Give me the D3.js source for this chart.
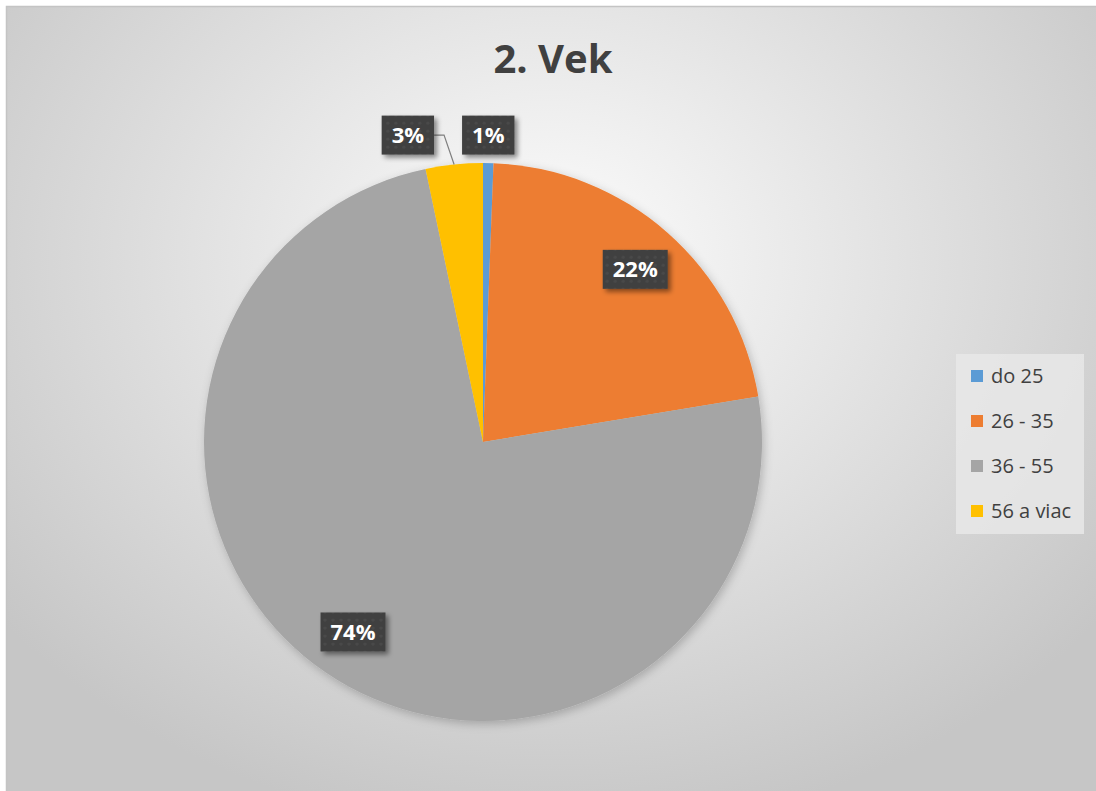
<!DOCTYPE html>
<html>
<head>
<meta charset="utf-8">
<script src="https://cdn.jsdelivr.net/npm/d3@7"></script>
<style>
  html, body { margin: 0; padding: 0; background: #fff; }
  svg { display: block; }
  text { font-family: "Open Sans", "DejaVu Sans", sans-serif; }
</style>
</head>
<body>
<svg id="chart" width="1096" height="791"></svg>
<script>
// data
const categories = ['do 25', '26 - 35', '36 - 55', '56 a viac'];
const shares = [0.6, 21.8, 74.3, 3.3];
const labels = ['1%', '22%', '74%', '3%'];
const colors = ['#5b9bd5', '#ed7d31', '#a5a5a5', '#ffc000'];
const title = '2. Vek';

const W = 1096, H = 791;
const cx = 483, cy = 442, R = 279;

const svg = d3.select('#chart');
const defs = svg.append('defs');

// background gradient, bright near the title, grey towards the edges
const bg = defs.append('radialGradient')
  .attr('id', 'bg')
  .attr('gradientUnits', 'userSpaceOnUse')
  .attr('cx', 550).attr('cy', 260).attr('r', 640)
  .attr('gradientTransform', 'translate(550,260) scale(1.1,0.9) translate(-550,-260)');
bg.append('stop').attr('offset', '0%').attr('stop-color', '#fdfdfd');
bg.append('stop').attr('offset', '100%').attr('stop-color', '#c6c6c6');

// soft shadow under the pie
const pieShadow = defs.append('filter').attr('id', 'pieShadow')
  .attr('x', '-10%').attr('y', '-10%').attr('width', '120%').attr('height', '120%');
pieShadow.append('feDropShadow')
  .attr('dx', 2).attr('dy', 3).attr('stdDeviation', 5)
  .attr('flood-color', '#000').attr('flood-opacity', 0.22);

// label box shadow
const boxShadow = defs.append('filter').attr('id', 'boxShadow')
  .attr('x', '-20%').attr('y', '-20%').attr('width', '150%').attr('height', '160%');
boxShadow.append('feDropShadow')
  .attr('dx', 3).attr('dy', 3).attr('stdDeviation', 2.5)
  .attr('flood-color', '#000').attr('flood-opacity', 0.45);

// dotted texture of the label boxes
const dots = defs.append('pattern').attr('id', 'dots')
  .attr('patternUnits', 'userSpaceOnUse').attr('width', 8).attr('height', 8);
dots.append('rect').attr('width', 8).attr('height', 8).attr('fill', '#404040');
dots.append('circle').attr('cx', 4).attr('cy', 4).attr('r', 1.6).attr('fill', '#4a4a4a');

// chart area
svg.append('rect')
  .attr('x', 6.5).attr('y', 6.5)
  .attr('width', W - 4).attr('height', H)
  .attr('fill', 'url(#bg)')
  .attr('stroke', '#c4c4c4').attr('stroke-width', 1.5);

svg.append('text')
  .attr('x', 553).attr('y', 73)
  .attr('text-anchor', 'middle')
  .attr('font-size', 40).attr('font-weight', 700)
  .attr('fill', '#404040')
  .text(title);

const pie = d3.pie().sort(null).value(d => d);
const arcs = pie(shares);
const arc = d3.arc().innerRadius(0).outerRadius(R);

const g = svg.append('g').attr('transform', `translate(${cx},${cy})`);

g.append('g').attr('filter', 'url(#pieShadow)')
  .selectAll('path')
  .data(arcs)
  .enter().append('path')
  .attr('d', arc)
  .attr('fill', (d, i) => colors[i]);

// measure label widths first
const probe = svg.append('text').attr('font-size', 22).attr('font-weight', 700);
const widths = labels.map(t => probe.text(t).node().getComputedTextLength());
probe.remove();

// label placement: inside for big slices, outside for thin ones
const inner = d3.arc().innerRadius(R * 0.825).outerRadius(R * 0.825);
const boxH = 39, pad = 10;
const placed = [];
arcs.forEach((d, i) => {
  const mid = (d.startAngle + d.endAngle) / 2;
  const bw = widths[i] + pad * 2;
  let x, y, outside = false;
  if (d.endAngle - d.startAngle > 0.3) {
    [x, y] = inner.centroid(d);
  } else {
    outside = true;
    x = Math.sin(mid) * R;
    y = -R * 1.1;
  }
  // push left if it runs into an earlier outside label
  placed.forEach(p => {
    if (Math.abs(p.y - y) < boxH && Math.abs(p.x - x) < (p.bw + bw) / 2) {
      x = p.x - p.bw / 2 - bw / 2 - 28;
    }
  });
  placed.push({x, y, bw, mid, outside, i});
});

placed.forEach(p => {
  if (p.outside && Math.abs(Math.sin(p.mid) * R - p.x) > p.bw / 2) {
    const ex = Math.sin(p.mid) * R, ey = -Math.cos(p.mid) * R;
    g.append('polyline')
      .attr('points', [[p.x + p.bw / 2, p.y], [p.x + p.bw / 2 + 10, p.y], [ex, ey]].join(' '))
      .attr('fill', 'none')
      .attr('stroke', '#7f7f7f').attr('stroke-width', 1.2);
  }
});

const lab = g.selectAll('.lab')
  .data(placed)
  .enter().append('g')
  .attr('class', 'lab')
  .attr('transform', p => `translate(${p.x},${p.y})`);

lab.append('rect')
  .attr('x', p => -p.bw / 2).attr('y', -boxH / 2)
  .attr('width', p => p.bw).attr('height', boxH)
  .attr('fill', 'url(#dots)')
  .attr('filter', 'url(#boxShadow)');

lab.append('text')
  .attr('text-anchor', 'middle')
  .attr('dy', '0.36em')
  .attr('font-size', 22).attr('font-weight', 700)
  .attr('fill', '#fff')
  .text(p => labels[p.i]);

// legend
const legend = svg.append('g').attr('transform', 'translate(956,354)');
legend.append('rect')
  .attr('width', 128).attr('height', 180)
  .attr('fill', '#e8e8e8').attr('fill-opacity', 0.85);

const y = d3.scalePoint().domain(categories).range([22, 157]);
const item = legend.selectAll('.item')
  .data(categories)
  .enter().append('g')
  .attr('class', 'item')
  .attr('transform', d => `translate(15,${y(d)})`);
item.append('rect')
  .attr('y', -6).attr('width', 12).attr('height', 12)
  .attr('fill', (d, i) => colors[i]);
item.append('text')
  .attr('x', 20).attr('dy', '0.35em')
  .attr('font-size', 20)
  .attr('fill', '#404040')
  .text(d => d);
</script>
</body>
</html>
